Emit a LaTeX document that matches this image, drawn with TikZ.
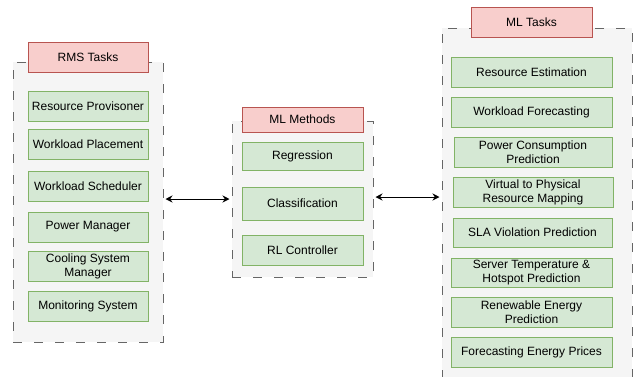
\documentclass[tikz,border=0pt]{standalone}
\usepackage{fontspec}
\setmainfont{Liberation Sans}
\usepackage{tikz}
\usetikzlibrary{arrows.meta,positioning}
\usepackage{xcolor}
\definecolor{boxgreen}{RGB}{213,232,212}
\definecolor{edgegreen}{RGB}{130,179,102}
\definecolor{boxred}{RGB}{248,206,204}
\definecolor{edgered}{RGB}{184,84,80}
\definecolor{groupgray}{RGB}{245,245,245}
\definecolor{dashgray}{RGB}{102,102,102}

\tikzset{
  group/.style={draw=dashgray,fill=groupgray,line width=1pt,
    dash pattern=on 9pt off 12pt,inner sep=0pt},
  title/.style={draw=edgered,fill=boxred,line width=1pt,minimum height=30pt,
    minimum width=120pt,inner sep=0pt},
  task/.style={draw=edgegreen,fill=boxgreen,line width=1pt,minimum height=30pt,
    inner sep=0pt,align=center,font=\fontsize{12}{14}\selectfont},
  link/.style={{Stealth[length=7pt,width=7pt]}-{Stealth[length=7pt,width=7pt]},
    line width=1pt,black}
}

\begin{document}
\begin{tikzpicture}[x=1pt,y=-1pt,font=\fontsize{12}{14}\selectfont]
    \useasboundingbox[fill=white] (0,0) rectangle (633,376);
    % Gruppen (gestrichelt)
    \node[group,minimum width=150pt,minimum height=280pt] (rms) at (88,202) {};
    \node[group,minimum width=141pt,minimum height=156pt] (mlm) at (302.5,199) {};
    \node[group,minimum width=190pt,minimum height=370pt] (mlt) at (537,213) {};
    % Titel
    \node[title] (rmstitle) at (88,57) {RMS Tasks};
    \node[title,minimum width=121pt,minimum height=25pt] (mlmtitle) at (302.5,119.5) {ML Methods};
    \node[title,minimum width=121pt] (mlttitle) at (531.5,22) {ML Tasks};
    % RMS Aufgaben
    \node[task,minimum width=120pt] (prov) at (88,106) {Resource Provisoner};
    \node[task,minimum width=120pt] (place) at (88,144) {Workload Placement};
    \node[task,minimum width=120pt] (sched) at (88,186) {Workload Scheduler};
    \node[task,minimum width=120pt] (power) at (88,227) {Power Manager};
    \node[task,minimum width=120pt] (cool) at (88,266) {Cooling System\\Manager};
    \node[task,minimum width=120pt] (monit) at (88,306) {Monitoring System};
    % ML Methoden
    \node[task,minimum width=121pt,minimum height=28pt] (regr) at (302.5,156) {Regression};
    \node[task,minimum width=121pt,minimum height=33pt] (class) at (302.5,203.5) {Classification};
    \node[task,minimum width=121pt] (rl) at (302.5,250) {RL Controller};
    % ML Aufgaben
    \node[task,minimum width=161pt] (estim) at (531.5,72) {Resource Estimation};
    \node[task,minimum width=161pt] (wlfc) at (531.5,112) {Workload Forecasting};
    \node[task,minimum width=158pt] (pcons) at (533,152) {Power Consumption\\Prediction};
    \node[task,minimum width=160pt] (vmap) at (533,192) {Virtual to Physical\\Resource Mapping};
    \node[task,minimum width=159pt,minimum height=29pt] (sla) at (532.5,232.5) {SLA Violation Prediction};
    \node[task,minimum width=161pt,minimum height=29pt] (temp) at (531.5,272.5) {Server Temperature \&\\Hotspot Prediction};
    \node[task,minimum width=161pt] (renew) at (531.5,312) {Renewable Energy\\Prediction};
    \node[task,minimum width=161pt] (price) at (531.5,352) {Forecasting Energy Prices};
    % Verbindungen
    \draw[link,shorten <=2pt,shorten >=2pt] (rms.east |- mlm.west) -- (mlm.west);
    \draw[link,shorten <=2pt,shorten >=2pt] ([yshift=2pt]mlm.east) -- ([yshift=2pt]mlt.west |- mlm.east);
\end{tikzpicture}
\end{document}
